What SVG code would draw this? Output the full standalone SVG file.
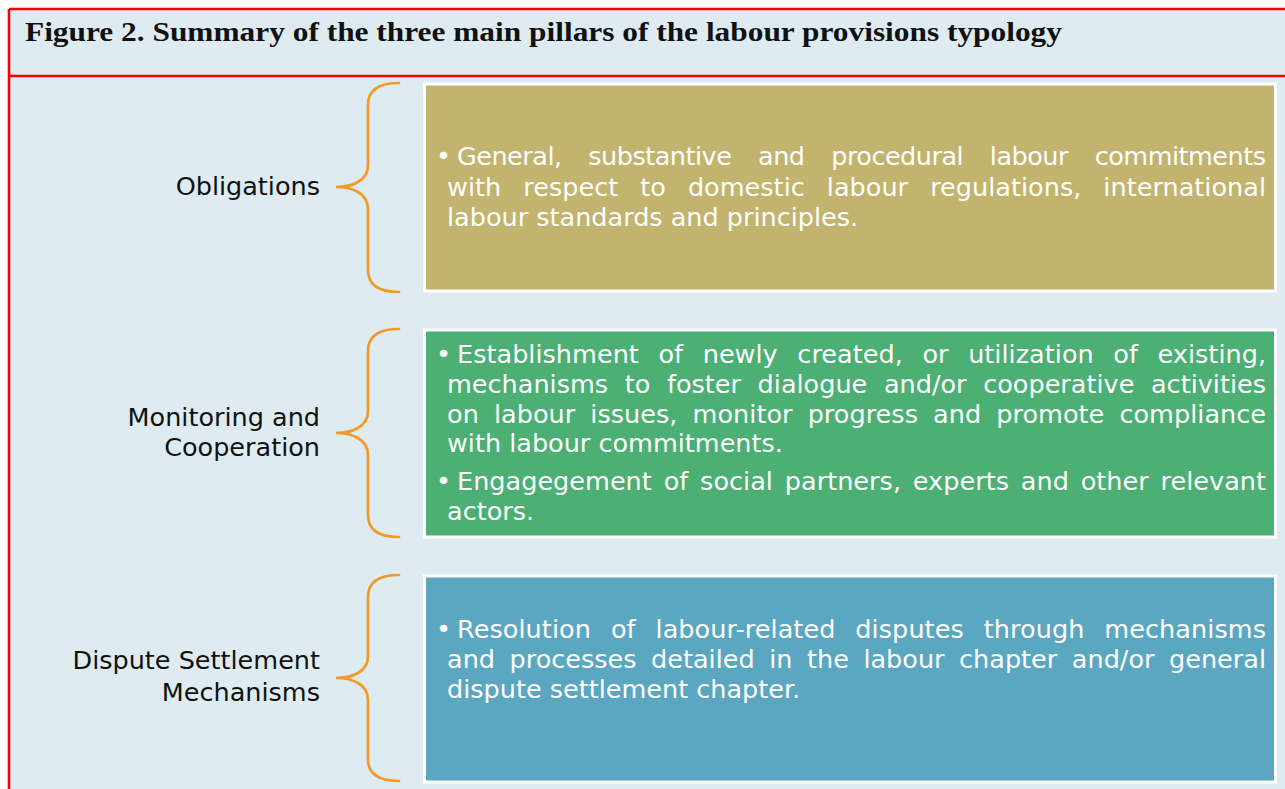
<svg xmlns="http://www.w3.org/2000/svg" width="1285" height="789" viewBox="0 0 1285 789">
<style>
.title{font-family:"Liberation Serif","Times New Roman",serif;font-weight:bold;font-size:28px;fill:#111}
.lbl{font-family:"DejaVu Sans",Verdana,sans-serif;font-size:25.5px;fill:#111;text-anchor:end}
.bt{font-family:"DejaVu Sans",Verdana,sans-serif;font-size:25.5px;fill:#fff}
.box{stroke:#fff;stroke-width:3}
.brace{fill:none;stroke:#F39A26;stroke-width:2.7;stroke-linecap:round}
.frame{stroke:#FF0000;stroke-width:2.6;fill:none}
</style>
<rect x="0" y="0" width="1285" height="789" fill="#fff"/>
<rect x="9" y="9" width="1290" height="790" fill="#DEECF1"/>
<g id="frame">
<line class="frame" x1="9" y1="9" x2="1290" y2="9"/>
<line class="frame" x1="9" y1="76" x2="1290" y2="76"/>
<line class="frame" x1="9" y1="9" x2="9" y2="795"/>
</g>
<g id="title">
<text class="title" x="25" y="41" textLength="1037" lengthAdjust="spacingAndGlyphs">Figure 2. Summary of the three main pillars of the labour provisions typology</text>
</g>
<g id="connectors">
<path class="brace" d="M399,83 C380,83 368,89 368,105 L368,165 C368,181 352,187 336,187 C352,187 368,193 368,209 L368,270 C368,286 380,292 399,292"/>
<path class="brace" d="M399,329 C380,329 368,335 368,351 L368,411 C368,427 352,433 336,433 C352,433 368,439 368,455 L368,515 C368,531 380,537 399,537"/>
<path class="brace" d="M399,575 C380,575 368,581 368,597 L368,656 C368,672 352,678 336,678 C352,678 368,684 368,700 L368,759 C368,775 380,781 399,781"/>
</g>
<g id="obligations">
<text class="lbl" x="320" y="195">Obligations</text>
<rect class="box" x="424.5" y="84" width="851" height="207" fill="#C2B46E"/>
<text class="bt" x="436" y="165">•</text>
<text class="bt" x="457" y="165" word-spacing="19.1" textLength="809" lengthAdjust="spacing">General, substantive and procedural labour commitments</text>
<text class="bt" x="447" y="196" word-spacing="13.9" textLength="819" lengthAdjust="spacing">with respect to domestic labour regulations, international</text>
<text class="bt" x="447" y="226">labour standards and principles.</text>
</g>
<g id="monitoring">
<text class="lbl" x="320" y="426">Monitoring and</text>
<text class="lbl" x="320" y="456">Cooperation</text>
<rect class="box" x="424.5" y="330" width="851" height="207" fill="#4CAF73"/>
<text class="bt" x="436" y="363">•</text>
<text class="bt" x="457" y="363" word-spacing="11.5" textLength="809" lengthAdjust="spacing">Establishment of newly created, or utilization of existing,</text>
<text class="bt" x="447" y="393" word-spacing="8.5" textLength="819" lengthAdjust="spacing">mechanisms to foster dialogue and/or cooperative activities</text>
<text class="bt" x="447" y="423" word-spacing="7" textLength="819" lengthAdjust="spacing">on labour issues, monitor progress and promote compliance</text>
<text class="bt" x="447" y="452">with labour commitments.</text>
<text class="bt" x="436" y="490">•</text>
<text class="bt" x="457" y="490" word-spacing="3.7" textLength="809" lengthAdjust="spacing">Engagegement of social partners, experts and other relevant</text>
<text class="bt" x="447" y="520">actors.</text>
</g>
<g id="dispute">
<text class="lbl" x="320" y="669">Dispute Settlement</text>
<text class="lbl" x="320" y="701">Mechanisms</text>
<rect class="box" x="424.5" y="576" width="851" height="206" fill="#5BA7C1"/>
<text class="bt" x="436" y="638">•</text>
<text class="bt" x="457" y="638" word-spacing="11.7" textLength="809" lengthAdjust="spacing">Resolution of labour-related disputes through mechanisms</text>
<text class="bt" x="447" y="668" word-spacing="6.4" textLength="819" lengthAdjust="spacing">and processes detailed in the labour chapter and/or general</text>
<text class="bt" x="447" y="698">dispute settlement chapter.</text>
</g>
</svg>
